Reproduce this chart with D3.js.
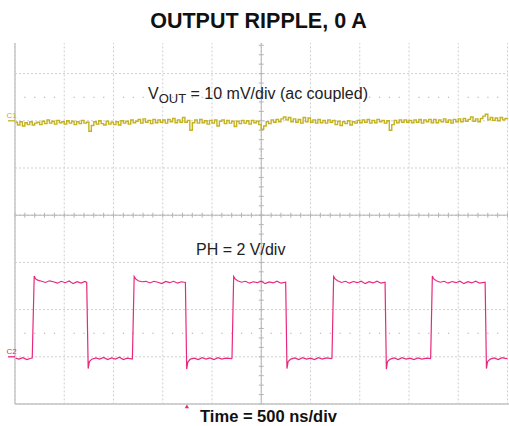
<!DOCTYPE html>
<html><head><meta charset="utf-8">
<script src="https://cdn.jsdelivr.net/npm/d3@7"></script>
<style>html,body{margin:0;padding:0;background:#fff;}svg{display:block;font-family:"Liberation Sans",Arial,sans-serif;}</style>
</head><body><svg id="c" width="509" height="426"></svg>
<script>
// ---- data ----
const titleText = "OUTPUT RIPPLE, 0 A";
const xLabel = "Time = 500 ns/div";
const ch1Label = ["V", "OUT", " = 10 mV/div (ac coupled)"];
const ch2Label = "PH = 2 V/div";
const gridTimes = [-2500,-2000,-1500,-1000,-500,0,500,1000,1500,2000,2500]; // ns
const gridVolts = [-2,0,2,4,6,8,10,12,14]; // PH volts (2 V/div)
const dotRowVolts = [1, 11];
const triggerTime = -755;
// VOUT ripple (mV), 25 ns per sample from -2500 ns
const voutMv = [
-0.3,-0.9,-0.2,-1.1,-0.4,-0.8,-0.2,-0.9,-0.5,-0.3,
-0.8,-0.1,-0.6,0.2,-0.5,-0.1,-0.7,0.1,-0.4,-0.2,
-0.7,0.0,-0.5,-0.1,-0.8,-0.2,-0.6,0.1,-0.5,-0.3,
-2.2,-1.0,-0.2,-0.7,0.0,-0.6,-0.9,-0.1,-0.7,-0.3,
-0.8,-0.2,-0.9,0.0,-0.5,-0.1,-0.7,0.2,-0.4,-0.1,
0.3,-0.5,0.4,-0.3,0.1,-0.6,0.3,-0.4,0.2,-0.3,
0.2,-0.5,0.3,-0.2,0.5,-0.4,0.2,-0.3,0.7,-0.3,
0.1,-2.0,-0.4,0.2,-0.5,0.3,-0.4,0.0,-0.7,0.1,
-0.5,0.2,-1.1,-0.1,0.2,-0.6,0.1,-0.5,-0.1,-1.2,
-0.1,-0.6,0.1,-0.5,0.0,-0.7,0.1,-0.4,-0.1,-0.8,
-1.8,-1.1,-0.2,-0.6,0.2,-0.3,0.3,-0.2,0.4,0.8,
0.2,0.7,-0.2,0.4,-0.3,0.3,-0.5,0.7,-0.2,0.6,
-0.3,0.2,-0.5,0.3,-0.4,0.1,-0.5,0.2,-0.3,0.1,
-0.8,-0.1,-1.0,-0.2,-0.6,0.0,-0.9,-0.2,-0.5,0.1,
-0.4,0.2,-0.3,0.3,-0.5,0.1,-0.4,0.3,-0.2,0.1,
-0.5,0.0,-2.0,-0.8,0.1,-0.4,0.2,-0.3,0.2,-0.3,
0.1,-0.4,0.2,-0.3,0.3,-0.5,0.2,-0.2,0.3,-0.4,
0.3,-0.4,0.2,-0.2,0.4,-0.3,0.2,-0.5,0.3,-0.2,
0.4,-0.2,0.5,-0.1,0.3,0.8,-0.1,0.4,-0.2,0.5,
1.0,1.4,0.2,0.7,0.1,0.6,0.0,0.7,0.2,0.5,0.4];
const voutT0 = -2500, voutDt = 25;
// PH switch node: [time ns, volts]
const phPoints = [
[-2500,-0.05],[-2460,-0.1],[-2420,-0.04],[-2380,-0.12],[-2340,-0.06],
[-2325,-0.05],[-2305,3.42],[-2290,3.3],[-2270,3.25],[-2230,3.2],[-2190,3.15],[-2150,3.22],[-2110,3.18],[-2070,3.12],[-2030,3.2],[-1990,3.14],[-1950,3.21],[-1910,3.1],[-1870,3.18],[-1830,3.12],[-1790,3.19],[-1772,3.15],
[-1757,-0.5],[-1745,-0.2],[-1720,-0.1],[-1680,-0.05],[-1640,-0.1],[-1600,-0.03],[-1560,-0.12],[-1520,-0.05],[-1480,-0.1],[-1440,-0.02],[-1400,-0.12],[-1360,-0.06],[-1310,-0.1],
[-1308,-0.06],[-1290,3.4],[-1275,3.3],[-1250,3.22],[-1210,3.18],[-1170,3.2],[-1130,3.13],[-1090,3.2],[-1050,3.16],[-1010,3.1],[-970,3.19],[-930,3.14],[-890,3.2],[-850,3.12],[-810,3.18],[-770,3.15],
[-757,-0.52],[-745,-0.22],[-720,-0.1],[-680,-0.06],[-640,-0.12],[-600,-0.04],[-560,-0.1],[-520,-0.05],[-480,-0.12],[-440,-0.04],[-400,-0.1],[-360,-0.06],[-300,-0.08],
[-297,-0.05],[-280,3.4],[-265,3.3],[-240,3.22],[-200,3.16],[-160,3.2],[-120,3.12],[-80,3.18],[-40,3.14],[0,3.2],[40,3.1],[80,3.17],[120,3.13],[160,3.2],[200,3.12],[248,3.16],
[261,-0.5],[273,-0.2],[300,-0.1],[340,-0.05],[380,-0.12],[420,-0.04],[460,-0.1],[500,-0.06],[540,-0.12],[580,-0.04],[620,-0.1],[660,-0.05],[715,-0.08],
[718,-0.05],[735,3.4],[750,3.3],[775,3.22],[815,3.15],[855,3.2],[895,3.12],[935,3.19],[975,3.14],[1015,3.2],[1055,3.1],[1095,3.18],[1135,3.13],[1175,3.2],[1215,3.12],[1257,3.16],
[1270,-0.52],[1282,-0.2],[1310,-0.1],[1350,-0.05],[1390,-0.12],[1430,-0.04],[1470,-0.1],[1510,-0.06],[1550,-0.12],[1590,-0.05],[1630,-0.1],[1680,-0.06],[1717,-0.08],
[1720,-0.05],[1737,3.42],[1752,3.3],[1777,3.22],[1817,3.16],[1857,3.2],[1897,3.12],[1937,3.19],[1977,3.14],[2017,3.2],[2057,3.1],[2097,3.18],[2137,3.13],[2177,3.2],[2217,3.12],[2273,3.16],
[2286,-0.5],[2298,-0.2],[2325,-0.1],[2365,-0.05],[2405,-0.12],[2445,-0.04],[2485,-0.08],[2500,-0.06]];

// ---- chart ----
const svg = d3.select("#c");
const x = d3.scaleLinear().domain([-2500,2500]).range([15,507.5]);
const yPH = d3.scaleLinear().domain([0,2]).range([356.8,309.6]);
const yV = d3.scaleLinear().domain([0,10]).range([120.8,73.6]);
const clipTop = 43, bottom = yPH(-2);
const yellow = "#c4b220", pink = "#e8287c";

svg.append("clipPath").attr("id","pc").append("rect")
  .attr("x",14).attr("y",clipTop).attr("width",500).attr("height",bottom-clipTop+1);
const g = svg.append("g").attr("clip-path","url(#pc)");

// grid
g.selectAll(".vg").data(gridTimes).join("line")
  .attr("x1",d=>x(d)).attr("x2",d=>x(d)).attr("y1",yPH(14)).attr("y2",bottom)
  .attr("stroke","#cfcfcf").attr("stroke-width",1).attr("stroke-dasharray","2,2");
g.selectAll(".hg").data(gridVolts).join("line")
  .attr("x1",x(-2500)).attr("x2",x(2500)).attr("y1",d=>yPH(d)).attr("y2",d=>yPH(d))
  .attr("stroke","#cfcfcf").attr("stroke-width",1).attr("stroke-dasharray","2,2");
// dotted rows
const minorT = d3.range(-2500,2501,100).filter(t=>Math.abs(t%500)!==0);
dotRowVolts.forEach(v=>{
  g.selectAll(null).data(minorT).join("rect")
    .attr("x",d=>x(d)-0.5).attr("y",yPH(v)-0.5).attr("width",1.2).attr("height",1.2)
    .attr("fill","#b8b8b8");
});
// center axes with minor ticks
g.append("line").attr("x1",x(-2500)).attr("x2",x(2500)).attr("y1",yPH(6)).attr("y2",yPH(6))
  .attr("stroke","#b4b4b4");
g.append("line").attr("x1",x(0)).attr("x2",x(0)).attr("y1",yPH(14)).attr("y2",bottom)
  .attr("stroke","#b4b4b4");
g.selectAll(null).data(d3.range(-2500,2501,100)).join("line")
  .attr("x1",d=>x(d)).attr("x2",d=>x(d)).attr("y1",yPH(6)-2.5).attr("y2",yPH(6)+2.5)
  .attr("stroke","#b4b4b4");
g.selectAll(null).data(d3.range(-2,14.01,0.4)).join("line")
  .attr("x1",x(0)-2.5).attr("x2",x(0)+2.5).attr("y1",d=>yPH(d)).attr("y2",d=>yPH(d))
  .attr("stroke","#b4b4b4");
// frame
svg.append("line").attr("x1",x(-2500)).attr("x2",x(-2500)).attr("y1",clipTop).attr("y2",bottom)
  .attr("stroke","#c4c4c4").attr("stroke-width",1.4);
svg.append("line").attr("x1",x(-2500)).attr("x2",509).attr("y1",bottom).attr("y2",bottom)
  .attr("stroke","#c4c4c4").attr("stroke-width",1.4);

// traces
const lineV = d3.line().curve(d3.curveStepAfter).x((d,i)=>x(voutT0+i*voutDt)).y(d=>yV(d));
g.append("path").attr("d",lineV(voutMv)).attr("fill","none")
  .attr("stroke",yellow).attr("stroke-width",1.4);
const linePH = d3.line().x(d=>x(d[0])).y(d=>yPH(d[1]));
g.append("path").attr("d",linePH(phPoints)).attr("fill","none")
  .attr("stroke",pink).attr("stroke-width",1.2);

// channel markers
[[yV(0),"C1",yellow],[yPH(0),"C2",pink]].forEach(([yy,t,c])=>{
  svg.append("line").attr("x1",8).attr("x2",15).attr("y1",yy).attr("y2",yy)
    .attr("stroke",c).attr("stroke-width",1.3);
  svg.append("text").attr("x",6.5).attr("y",yy-3).attr("font-size",8).attr("fill",c).text(t);
});
// trigger marker
svg.append("path").attr("d",d3.symbol(d3.symbolTriangle,8)())
  .attr("transform",`translate(${x(triggerTime)},${bottom+3})`).attr("fill",pink);

// texts
svg.append("text").attr("x",258.5).attr("y",28).attr("text-anchor","middle")
  .attr("font-size",21.5).attr("font-weight","bold").attr("fill","#111").text(titleText);
const t1 = svg.append("text").attr("x",148).attr("y",99).attr("font-size",16).attr("fill","#222");
t1.append("tspan").text(ch1Label[0]);
t1.append("tspan").attr("font-size",13).attr("dy",3.5).text(ch1Label[1]);
t1.append("tspan").attr("dy",-3.5).text(ch1Label[2]);
svg.append("text").attr("x",196).attr("y",255).attr("font-size",16).attr("fill","#222").text(ch2Label);
svg.append("text").attr("x",268.5).attr("y",422).attr("text-anchor","middle")
  .attr("font-size",16.5).attr("font-weight","bold").attr("fill","#111").text(xLabel);
</script></body></html>
